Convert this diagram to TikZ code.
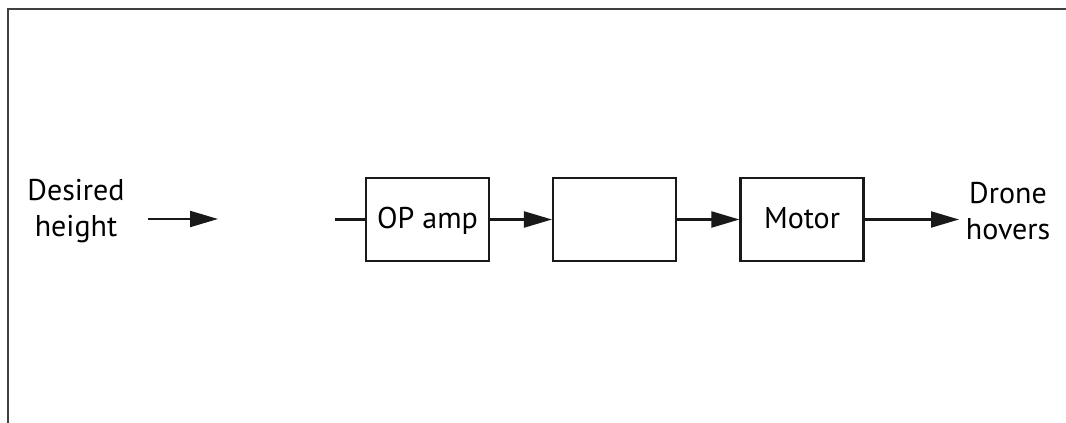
\documentclass[tikz,border=0pt]{standalone}
\usepackage{fontspec}
\setmainfont{PT Sans}
\usetikzlibrary{arrows.meta}
\begin{document}
\begin{tikzpicture}[x=0.75pt,y=-0.75pt,
  blk/.style={draw=black!90,line width=1.6pt,minimum width=123*0.75pt,minimum height=83*0.75pt,inner sep=0pt,text depth=0.4ex,font=\fontsize{22.5}{27}\selectfont},
  lbl/.style={align=center,font=\fontsize{22.5}{27}\selectfont,inner sep=0pt},
  conn/.style={draw=black!90,line width=1.6pt},
  arr/.style={conn,-{Triangle[length=21pt,width=12pt]}},
  frame/.style={draw=black!75,line width=1.6pt}]
\useasboundingbox (0,0) rectangle (1066,423);
\coordinate (fa) at (8,423);
\coordinate (fb) at (8,9);
\coordinate (fc) at (1066,9);
\draw[frame] (fa) -- (fb) -- (fc);
\node[lbl] (din) at (76,211) {Desired\\height};
\coordinate (a1s) at (148,219);
\coordinate (a1e) at (218,219);
\draw[arr] (a1s) -- (a1e);
\coordinate (stub) at (335,219.5);
\node[blk] (op) at (427.5,219.5) {OP amp};
\node[blk] (b2) at (614.5,219.5) {};
\node[blk] (mot) at (802,219.5) {Motor};
\coordinate (out) at (959,219.5);
\node[lbl] (dout) at (1008,211) {Drone\\hovers};
\draw[conn] (stub) -- (op.west);
\draw[arr] (op) -- (b2);
\draw[arr] (b2) -- (mot);
\draw[arr] (mot.east) -- (out);
\end{tikzpicture}
\end{document}
